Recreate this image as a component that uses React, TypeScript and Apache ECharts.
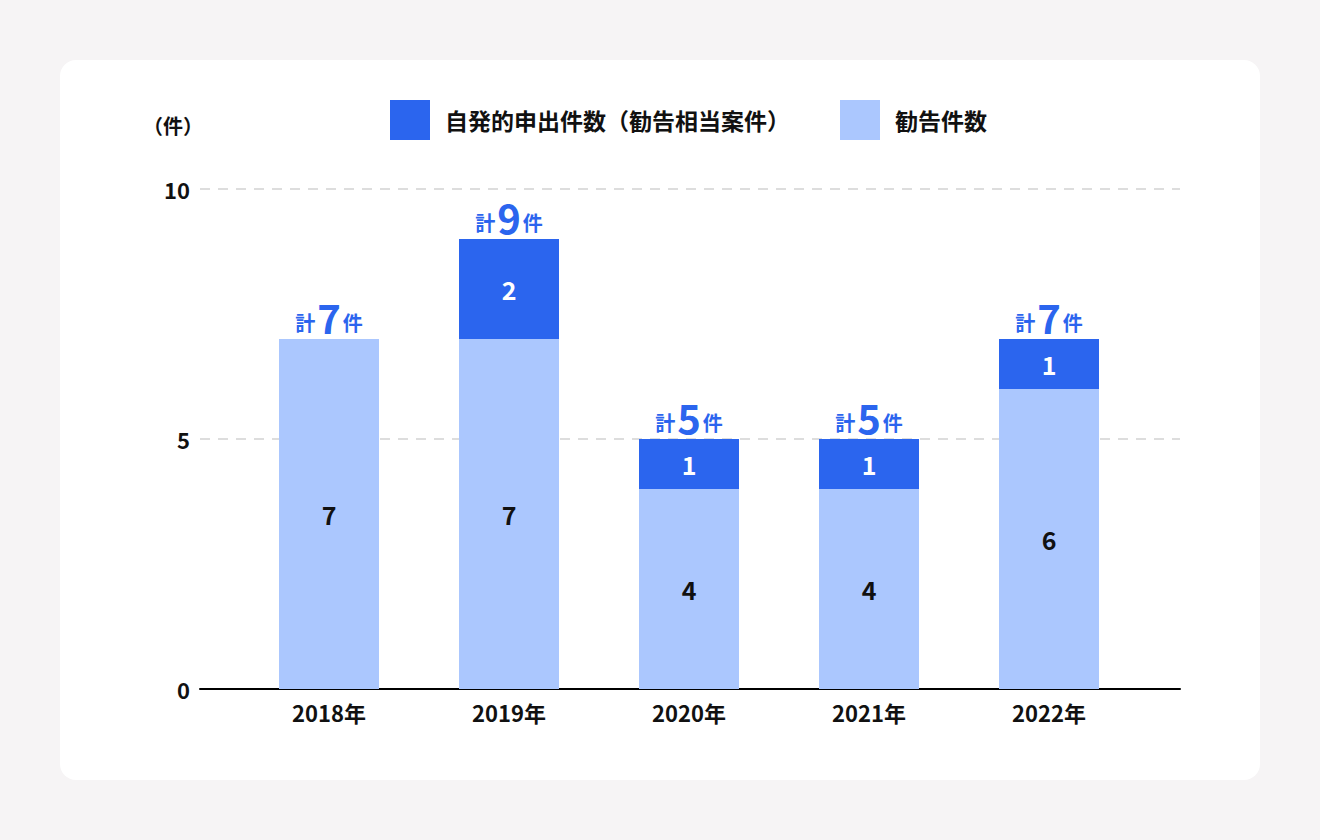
import React, { useEffect, useRef } from "react";
import * as echarts from "echarts";

const categories = ["2018年", "2019年", "2020年", "2021年", "2022年"];
const recommended = [7, 7, 4, 4, 6];
const selfReported = [0, 2, 1, 1, 1];
const totals = [7, 9, 5, 5, 7];
const seriesNames = ["自発的申出件数（勧告相当案件）", "勧告件数"];
const yTicks = { min: 0, max: 10, interval: 5 };

const FONT = "'Noto Sans CJK JP', 'Noto Sans', sans-serif";
const DARK = "#2b65ee";
const LIGHT = "#abc7fe";

export default function App() {
  const ref = useRef<HTMLDivElement>(null);
  useEffect(() => {
    const chart = echarts.init(ref.current!, null, { renderer: "svg" });
    chart.setOption({
      animation: false,
      backgroundColor: "#f6f4f5",
      textStyle: { fontFamily: FONT },
      graphic: [
        {
          type: "rect",
          shape: { x: 60, y: 60, width: 1200, height: 720, r: 16 },
          style: { fill: "#ffffff" },
          z: -10,
        },
        {
          type: "text",
          left: 143,
          top: 115,
          style: { text: "（件）", font: `bold 20px ${FONT}`, fill: "#111" },
        },
      ],
      legend: {
        data: [seriesNames[0], seriesNames[1]],
        top: 95,
        left: 385,
        itemWidth: 40,
        itemHeight: 40,
        itemGap: 50,
        icon: "rect",
        textStyle: { fontSize: 23, fontWeight: "bold", color: "#111", fontFamily: FONT, padding: [0, 0, 0, 10] },
      },
      grid: [
        { left: 200, right: 140, top: 189, bottom: 151 },
        { left: 239, right: 181, top: 189, bottom: 151 },
      ],
      xAxis: [
        {
          type: "value",
          gridIndex: 0,
          min: 0,
          max: 1,
          axisLine: { show: true, onZero: false, lineStyle: { color: "#000", width: 2 } },
          axisTick: { show: false },
          axisLabel: { show: false },
          splitLine: { show: false },
        },
        {
          type: "category",
          gridIndex: 1,
          data: categories,
          axisLine: { show: false },
          axisTick: { show: false },
          axisLabel: { fontSize: 22, fontWeight: "bold", color: "#111", margin: 12, fontFamily: FONT },
        },
      ],
      yAxis: [
        {
          type: "value",
          gridIndex: 0,
          min: yTicks.min,
          max: yTicks.max,
          interval: yTicks.interval,
          axisLine: { show: false },
          axisTick: { show: false },
          axisLabel: { fontSize: 22, fontWeight: "bold", color: "#111", margin: 10, fontFamily: FONT },
          splitLine: { show: true, lineStyle: { color: "#dddddd", width: 2, type: [10, 8] } },
        },
        {
          type: "value",
          gridIndex: 1,
          min: yTicks.min,
          max: yTicks.max,
          interval: yTicks.interval,
          show: false,
          splitLine: { show: false },
        },
      ],
      series: [
        {
          name: seriesNames[1],
          type: "bar",
          stack: "a",
          xAxisIndex: 1,
          yAxisIndex: 1,
          barWidth: 100,
          data: recommended,
          itemStyle: { color: LIGHT },
          label: {
            show: true,
            position: "inside",
            fontSize: 25,
            fontWeight: "bold",
            color: "#111",
            fontFamily: FONT,
          },
        },
        {
          name: seriesNames[0],
          type: "bar",
          stack: "a",
          xAxisIndex: 1,
          yAxisIndex: 1,
          barWidth: 100,
          data: selfReported,
          itemStyle: { color: DARK },
          label: {
            show: true,
            position: "inside",
            fontSize: 25,
            fontWeight: "bold",
            color: "#fff",
            fontFamily: FONT,
            formatter: (p: any) => (p.value ? String(p.value) : ""),
          },
        },
        {
          name: "total",
          type: "bar",
          stack: "a",
          xAxisIndex: 1,
          yAxisIndex: 1,
          barWidth: 100,
          data: totals.map(() => 0),
          itemStyle: { color: "transparent" },
          label: {
            show: true,
            position: "top",
            distance: 2,
            formatter: (p: any) => `{a|計}{b|${totals[p.dataIndex]}}{a|件}`,
            rich: {
              a: { fontSize: 20, fontWeight: "bold", color: DARK, fontFamily: FONT, padding: [10, 0, 0, 0] },
              b: { fontSize: 40, fontWeight: "bold", color: DARK, fontFamily: FONT, padding: [0, 2, 0, 2] },
            },
          },
        },
      ],
    });
    return () => chart.dispose();
  }, []);
  return (
    <div
      ref={ref}
      style={{ position: "fixed", left: 0, top: 0, width: 1320, height: 840 }}
    />
  );
}
